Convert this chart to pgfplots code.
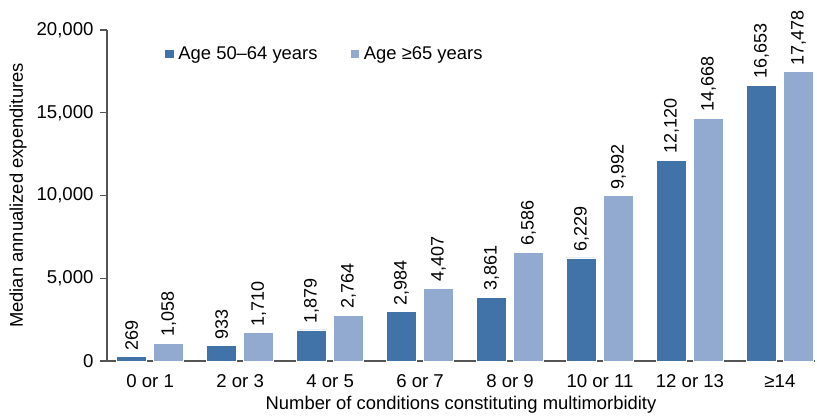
\documentclass[border=0pt]{standalone}
\usepackage{pgfplots}
\pgfplotsset{compat=1.18}
\usepackage{fontspec}
\setmainfont{Liberation Sans}
\definecolor{darkbar}{HTML}{4172A8}
\definecolor{lightbar}{HTML}{92AAD0}
\definecolor{axisgray}{HTML}{555555}
\begin{document}
\fontsize{9.2}{11}\selectfont
\begin{tikzpicture}
\begin{axis}[
  scale only axis,
  width=354pt, height=165.5pt,
  ybar=3.5pt, bar width=15pt,
  xmin=-0.48, xmax=7.39,
  ymin=0, ymax=20000,
  ytick={0,5000,10000,15000,20000},
  xtick={0,1,2,3,4,5,6,7},
  xticklabels={0 or 1,2 or 3,4 or 5,6 or 7,8 or 9,10 or 11,12 or 13,{≥14}},
  axis lines*=left,
  axis line style={axisgray, line width=0.6pt},
  tick align=outside,
  major tick length=3.5pt,
  ytick style={axisgray, line width=0.6pt},
  xtick style={draw=none},
  tick label style={font=\fontsize{9.3}{11}\selectfont, black},
  /pgf/number format/assume math mode=true,
  /pgf/number format/.cd, 1000 sep={,}, /pgfplots/.cd,
  scaled y ticks=false,
  ylabel={Median annualized expenditures},
  xlabel={Number of conditions constituting multimorbidity},
  every axis y label/.style={at={(rel axis cs:0,0.5)}, xshift=-44.5pt, rotate=90, anchor=center, font=\fontsize{9.2}{11}\selectfont},
  every axis x label/.style={at={(rel axis cs:0.5,0)}, anchor=center, yshift=-22pt, font=\fontsize{9.2}{11}\selectfont},
  nodes near coords,
  every node near coord/.append style={rotate=90, anchor=west, font=\fontsize{9}{11}\selectfont, black, /pgf/number format/assume math mode=true, /pgf/number format/1000 sep={,}},
  legend style={at={(rel axis cs:0.08,0.9275)}, anchor=west, draw=none, fill=none, legend columns=2, font=\fontsize{9.2}{11}\selectfont, /tikz/every even column/.append style={column sep=14pt}, inner sep=0pt},
  legend image code/.code={\fill[#1] (0pt,-2.4pt) rectangle (4.8pt,2.4pt);},
]
\addplot[fill=darkbar, draw=white, line width=0.4pt] coordinates {(0,269) (1,933) (2,1879) (3,2984) (4,3861) (5,6229) (6,12120) (7,16653)};
\addplot[fill=lightbar, draw=white, line width=0.4pt] coordinates {(0,1058) (1,1710) (2,2764) (3,4407) (4,6586) (5,9992) (6,14668) (7,17478)};
\legend{Age 50–64 years, Age ≥65 years}
\end{axis}
\path (current axis.south west) ++(-53.5pt,-29pt) rectangle ++(408.5pt,209.5pt);
\end{tikzpicture}
\end{document}
